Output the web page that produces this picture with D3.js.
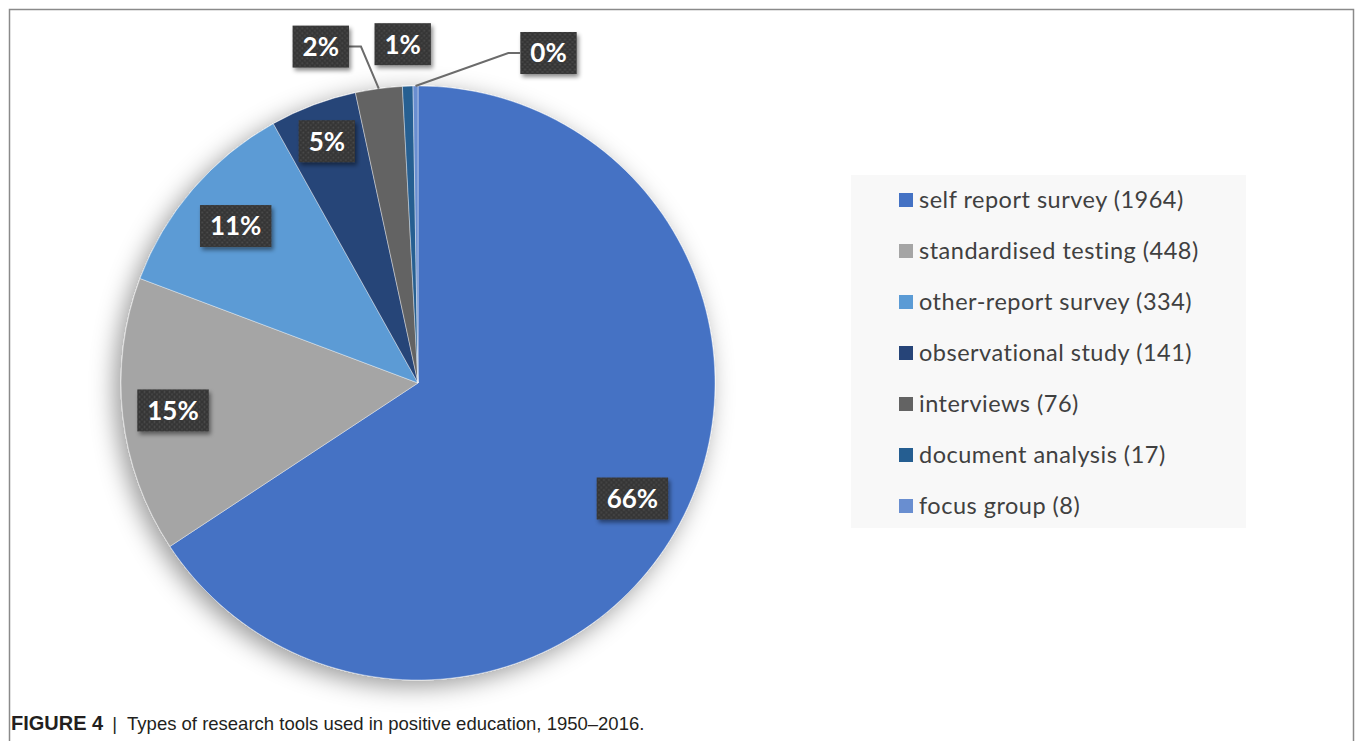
<!DOCTYPE html>
<html>
<head>
<meta charset="utf-8">
<script src="https://cdn.jsdelivr.net/npm/d3@7/dist/d3.min.js"></script>
<style>
  body { margin: 0; background: #fff; }
  svg { display: block; }
</style>
</head>
<body>
<div id="chart"></div>
<script>
// Data
const categories = ['self report survey', 'standardised testing', 'other-report survey',
  'observational study', 'interviews', 'document analysis', 'focus group'];
const counts = [1964, 448, 334, 141, 76, 17, 8];
const pctLabels = ['66%', '15%', '11%', '5%', '2%', '1%', '0%'];
const colors = ['#4472C4', '#A5A5A5', '#5B9BD5', '#264478', '#636363', '#255E91', '#698ED0'];

const width = 1355, height = 741;
const cx = 418, cy = 383, R = 297;

const svg = d3.select('#chart').append('svg')
  .attr('width', width)
  .attr('height', height);

const defs = svg.append('defs');

// soft shadow under the pie
const pieShadow = defs.append('filter').attr('id', 'pieShadow')
  .attr('x', '-25%').attr('y', '-25%').attr('width', '150%').attr('height', '150%');
pieShadow.append('feDropShadow')
  .attr('dx', -6).attr('dy', 6).attr('stdDeviation', 12)
  .attr('flood-color', '#000').attr('flood-opacity', 0.4);

// shadow for label boxes
const boxShadow = defs.append('filter').attr('id', 'boxShadow')
  .attr('x', '-20%').attr('y', '-20%').attr('width', '150%').attr('height', '150%');
boxShadow.append('feDropShadow')
  .attr('dx', 2).attr('dy', 3).attr('stdDeviation', 2)
  .attr('flood-color', '#000').attr('flood-opacity', 0.45);

// dotted dark texture for label boxes
const pat = defs.append('pattern').attr('id', 'dots')
  .attr('width', 5).attr('height', 5).attr('patternUnits', 'userSpaceOnUse');
pat.append('rect').attr('width', 5).attr('height', 5).attr('fill', '#363636');
pat.append('circle').attr('cx', 1.5).attr('cy', 1.5).attr('r', 0.9).attr('fill', '#4e4e4e');
pat.append('circle').attr('cx', 4).attr('cy', 4).attr('r', 0.9).attr('fill', '#474747');

// frame
svg.append('path')
  .attr('d', `M9.5,${height} V9.5 H1353.5 V${height}`)
  .attr('fill', 'none')
  .attr('stroke', '#8a8a8a')
  .attr('stroke-width', 1.5);

// pie
const pie = d3.pie().sort(null).value(d => d);
const arcs = pie(counts);
const arc = d3.arc().innerRadius(0).outerRadius(R);

const g = svg.append('g').attr('transform', `translate(${cx},${cy})`);

g.append('g')
  .attr('filter', 'url(#pieShadow)')
  .selectAll('path')
  .data(arcs)
  .enter().append('path')
  .attr('d', arc)
  .attr('fill', (d, i) => colors[i])
  .attr('stroke', 'rgba(255,255,255,0.5)')
  .attr('stroke-width', 0.8);

// label placement: inside slices, small slices outside
const labelRadius = [0.82, 0.83, 0.81, 0.87];
const outerOffsets = { 4: [-58, -42], 5: [-5, -42], 6: [133, -33] };
const leaders = { 4: true, 6: true };

arcs.forEach((d, i) => {
  let lx, ly, ex, ey;
  const mid = (d.startAngle + d.endAngle) / 2;
  if (outerOffsets[i]) {
    ex = Math.sin(mid) * R;
    ey = -Math.cos(mid) * R;
    lx = ex + outerOffsets[i][0];
    ly = ey + outerOffsets[i][1];
  } else {
    const r = R * labelRadius[i];
    [lx, ly] = d3.arc().innerRadius(r).outerRadius(r).centroid(d);
  }

  const lg = g.append('g').attr('transform', `translate(${lx},${ly})`);
  const box = lg.append('rect').attr('fill', 'url(#dots)').attr('filter', 'url(#boxShadow)');
  const t = lg.append('text')
    .attr('text-anchor', 'middle')
    .attr('dy', '0.36em')
    .attr('fill', '#fff')
    .attr('font-family', 'Lato, "Open Sans", sans-serif')
    .attr('font-weight', 'bold')
    .attr('font-size', 26)
    .text(pctLabels[i]);
  const bw = t.node().getComputedTextLength() + 20;
  const bh = 42;
  box.attr('x', -bw / 2).attr('y', -bh / 2).attr('width', bw).attr('height', bh);

  if (leaders[i]) {
    const side = ex < lx ? -1 : 1;   // box edge facing the pie
    const bx = lx + side * bw / 2;
    const kx = bx + side * 12;
    g.insert('polyline', ':scope > g:nth-child(2)')
      .attr('points', `${ex},${ey} ${kx},${ly} ${bx},${ly}`)
      .attr('fill', 'none')
      .attr('stroke', '#6b6b6b')
      .attr('stroke-width', 2);
  }
});

// legend
const legend = svg.append('g').attr('transform', 'translate(851,175)');
legend.append('rect')
  .attr('width', 395).attr('height', 353)
  .attr('fill', '#f8f8f8');

const items = legend.selectAll('.item')
  .data(categories)
  .enter().append('g')
  .attr('class', 'item')
  .attr('transform', (d, i) => `translate(48,${25 + i * 51})`);

items.append('rect')
  .attr('x', 0).attr('y', -7)
  .attr('width', 14).attr('height', 14)
  .attr('fill', (d, i) => colors[i]);

items.append('text')
  .attr('x', 20)
  .attr('dy', '0.35em')
  .attr('fill', '#404040')
  .attr('font-family', 'Lato, "Open Sans", sans-serif')
  .attr('font-size', 23.5)
  .attr('letter-spacing', 0.5)
  .text((d, i) => `${d} (${counts[i]})`);

// caption
const cap = svg.append('text')
  .attr('x', 11)
  .attr('y', 730)
  .attr('fill', '#231f20')
  .attr('font-family', '"Liberation Sans Narrow", "Liberation Sans", Arial, sans-serif')
  .attr('font-size', 18.5);
cap.append('tspan').attr('font-weight', 'bold').attr('font-size', 20).text('FIGURE 4');
cap.append('tspan').attr('dx', 9).text('|');
cap.append('tspan').attr('dx', 10).text('Types of research tools used in positive education, 1950–2016.');
</script>
</body>
</html>
